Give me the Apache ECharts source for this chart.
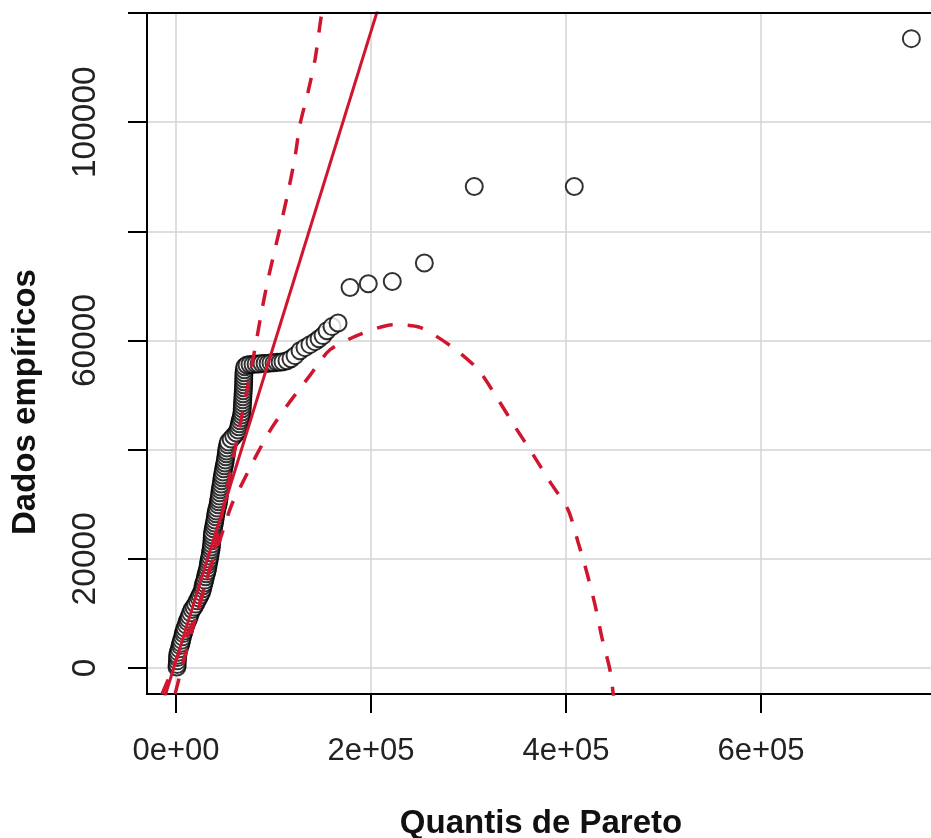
<!DOCTYPE html>
<html>
<head>
<meta charset="utf-8">
<title>Quantis de Pareto</title>
<script src="https://cdn.jsdelivr.net/npm/echarts@6/dist/echarts.min.js"></script>
<style>
  html, body { margin: 0; padding: 0; background: #ffffff; }
  #chart { width: 931px; height: 838px; }
</style>
</head>
<body>
<div id="chart"></div>
<script>
// Empirical data (sorted) against the matching Pareto quantiles
const qX = [
  1000, 1200, 1400, 1600, 1800, 2400, 3300, 4300, 5100, 5800,
  6700, 7500, 8400, 9200, 10400, 11500, 12700, 13800, 15000, 16500,
  18400, 20100, 21900, 23500, 24800, 26300, 27400, 27800, 28700, 29500,
  30300, 31100, 31800, 32600, 33100, 33600, 34200, 34800, 35300, 35900,
  36200, 36600, 36900, 37100, 37300, 37500, 38300, 38800, 39400, 39900,
  40500, 40900, 41400, 42200, 43100, 43600, 44000, 44500, 44900, 45400,
  45800, 46400, 46800, 47300, 47700, 48300, 48900, 49500, 50100, 50600,
  51100, 51600, 51900, 52300, 53100, 53800, 56500, 59200, 61800, 63600,
  64400, 65100, 65800, 66600, 67300, 67700, 67900, 68100, 68300, 68500,
  68600, 68800, 69000, 69200, 69300, 69400, 69500, 69600, 69700, 70100,
  70600,
  72800, 75900, 79000, 82100, 85100, 88200, 91300, 94400, 97400, 100500,
  103600, 106700, 109700, 113800,
  117900, 122100, 127200, 132300, 137400, 142600, 146700, 150800, 154900, 160000,
  166200,
  178500, 197200, 221800, 254700, 305900, 408500, 754200];
const qY = [
  180, 650, 1300, 1900, 2350, 2900, 3500, 4100, 4550, 5100,
  5700, 6300, 6750, 7300, 7900, 8500, 8950, 9500, 10100, 10700,
  11150, 11700, 12300, 12850, 13350, 13900, 14500, 15050, 15550, 16100,
  16700, 17250, 17750, 18300, 18900, 19450, 19950, 20500, 21100, 21650,
  22150, 22700, 23300, 23850, 24350, 24900, 25500, 26050, 26550, 27100,
  27700, 28250, 28750, 29300, 29900, 30450, 30950, 31500, 32100, 32650,
  33150, 33700, 34300, 34850, 35350, 35900, 36500, 37050, 37550, 38100,
  38700, 39250, 39750, 40300, 40900, 41400, 41950, 42500, 43050, 43600,
  44200, 44750, 45300, 45800, 46350, 46900, 47500, 48050, 48600, 49150,
  49700, 50250, 50800, 51350, 51900, 52450, 53000, 53550, 54100, 54650,
  55200,
  55500, 55600, 55600, 55700, 55700, 55800, 55800, 55800, 55900, 55900,
  56000, 56000, 56100, 56300,
  56670, 57220, 58130, 58690, 59240, 59790, 60330, 60890, 61800, 62540,
  63210,
  69700, 70400, 70800, 74200, 88200, 88200, 115300];

// Reference line (end points)
const lineX = [-12000, 210000];
const lineY = [-5600, 122400];

// Upper envelope
const upperX = [-14400, -8200, 0, 9200, 22600, 36900, 50300, 60500, 68700, 75900,
  82100, 88200, 94400, 101500, 108700, 115900, 122100, 127200, 135400, 142600,
  147700, 150800];
const upperY = [-4800, -2200, 1500, 5100, 10600, 19800, 30800, 40000, 47300, 53700,
  59600, 65700, 71200, 76700, 82200, 88000, 93700, 99600, 105500, 111500,
  117900, 121600];

// Lower envelope
const lowerX = [-1000, 8200, 19500, 32800, 45100, 57100, 69000, 82800, 98200, 116900,
  137400, 157900, 188700, 222600, 250300, 284100, 309700, 329200, 347700, 366200,
  383600, 402100, 412300, 421500, 429700, 436900, 445100, 449200];
const lowerY = [-4800, 1500, 8800, 17100, 23500, 29900, 34200, 39100, 44000, 48800,
  53600, 58300, 61100, 62900, 62400, 58700, 54700, 49500, 44200, 39100,
  34100, 29000, 23100, 17400, 11600, 5500, -400, -5900];

// Axis ticks and labels
const xTickValues = [0, 200000, 400000, 600000];
const xTickLabels = ['0e+00', '2e+05', '4e+05', '6e+05'];
const yTickValues = [0, 20000, 40000, 60000, 80000, 100000, 120000];
const yLabelValues = [0, 20000, 60000, 100000];

const zip = (xs, ys) => xs.map((x, i) => [x, ys[i]]);

const RED = '#d0152f';
const FONT = '"Liberation Sans", Arial, sans-serif';
const X_RANGE = [-29750, 784600];
const Y_RANGE = [-4770, 120000];

const chart = echarts.init(document.getElementById('chart'), null, { renderer: 'canvas' });

chart.setOption({
  animation: false,
  backgroundColor: '#ffffff',
  grid: {
    left: 147, top: 13, right: -10, bottom: 144,
    show: true, borderColor: '#000', borderWidth: 2,
    backgroundColor: 'transparent',
    containLabel: false, outerBoundsMode: 'none'
  },
  xAxis: [
    {
      type: 'value',
      position: 'bottom',
      min: X_RANGE[0], max: X_RANGE[1],
      axisLine: { show: true, onZero: false, lineStyle: { color: '#000', width: 2 } },
      axisTick: {
        show: true, inside: false, length: 19,
        customValues: xTickValues,
        lineStyle: { color: '#000', width: 2 }
      },
      axisLabel: {
        customValues: xTickValues,
        margin: 42,
        color: '#222',
        fontSize: 31,
        fontFamily: FONT,
        formatter: v => xTickLabels[xTickValues.indexOf(v)]
      },
      splitLine: { show: true, lineStyle: { color: '#d3d3d3', width: 1.5 } }
    },
    {
      // top edge of the plot box, kept above the grid lines
      type: 'value',
      position: 'top',
      min: X_RANGE[0], max: X_RANGE[1],
      z: 10,
      axisLine: { show: true, onZero: false, lineStyle: { color: '#000', width: 2 } },
      axisTick: { show: false },
      axisLabel: { show: false },
      splitLine: { show: false }
    }
  ],
  yAxis: {
    type: 'value',
    position: 'left',
    min: Y_RANGE[0], max: Y_RANGE[1],
    axisLine: { show: true, onZero: false, lineStyle: { color: '#000', width: 2 } },
    axisTick: {
      show: true, inside: false, length: 19,
      customValues: yTickValues,
      lineStyle: { color: '#000', width: 2 }
    },
    axisLabel: {
      customValues: yLabelValues,
      rotate: 90,
      margin: 44,
      color: '#222',
      fontSize: 33.5,
      fontFamily: FONT,
      formatter: v => String(v)
    },
    splitLine: { show: true, lineStyle: { color: '#d3d3d3', width: 1.5 } }
  },
  graphic: [
    {
      type: 'text', x: 541, y: 824,
      style: {
        text: 'Quantis de Pareto', fill: '#111',
        font: 'bold 33px ' + FONT,
        textAlign: 'center', textVerticalAlign: 'middle'
      }
    },
    {
      type: 'text', x: 26, y: 402, rotation: Math.PI / 2,
      style: {
        text: 'Dados empíricos', fill: '#111',
        font: 'bold 33px ' + FONT,
        textAlign: 'center', textVerticalAlign: 'middle'
      }
    }
  ],
  series: [
    {
      type: 'scatter',
      data: zip(qX, qY),
      symbol: 'emptyCircle',
      symbolSize: 17,
      itemStyle: { color: '#000', borderColor: '#000', borderWidth: 2.2 },
      z: 2
    },
    {
      type: 'line',
      data: zip(lineX, lineY),
      showSymbol: false,
      lineStyle: { color: RED, width: 3, type: 'solid' },
      z: 3
    },
    {
      type: 'line',
      data: zip(upperX, upperY),
      showSymbol: false,
      smooth: 0.25,
      lineStyle: { color: RED, width: 3.5, type: [16, 15] },
      z: 3
    },
    {
      type: 'line',
      data: zip(lowerX, lowerY),
      showSymbol: false,
      smooth: 0.25,
      lineStyle: { color: RED, width: 3.5, type: [16, 15] },
      z: 3
    }
  ]
});
</script>
</body>
</html>
